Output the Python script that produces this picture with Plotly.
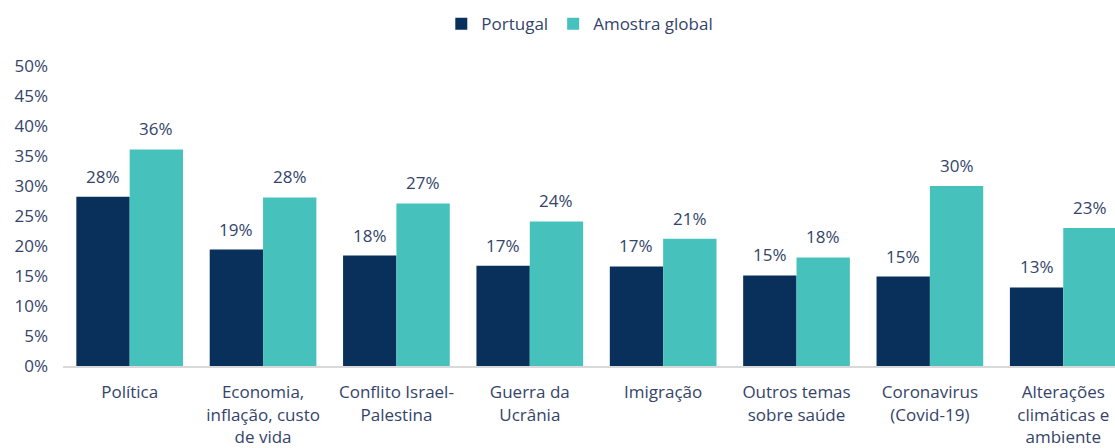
import plotly.graph_objects as go

categories = [
    "Política",
    "Economia,<br>inflação, custo<br>de vida",
    "Conflito Israel-<br>Palestina",
    "Guerra da<br>Ucrânia",
    "Imigração",
    "Outros temas<br>sobre saúde",
    "Coronavirus<br>(Covid-19)",
    "Alterações<br>climáticas e<br>ambiente",
]
portugal = [28.2, 19.4, 18.4, 16.7, 16.6, 15.1, 14.9, 13.1]
global_sample = [36.1, 28.1, 27.1, 24.1, 21.2, 18.1, 30.0, 23.0]
series_names = ["Portugal", "Amostra global"]
y_ticks = [0, 5, 10, 15, 20, 25, 30, 35, 40, 45, 50]

C_PT = "#08305a"
C_GL = "#47c1bc"
TXT = "#34446a"
FONT = "Open Sans"
FS = 17

fig = go.Figure()
fig.add_trace(go.Bar(x=categories, y=portugal, name=series_names[0],
                     marker=dict(color=C_PT, line=dict(width=0))))
fig.add_trace(go.Bar(x=categories, y=global_sample, name=series_names[1],
                     marker=dict(color=C_GL, line=dict(width=0))))

annotations = []
for i, (a, b) in enumerate(zip(portugal, global_sample)):
    for off, v in ((-0.2, a), (0.2, b)):
        annotations.append(dict(
            x=i + off, y=v, xref="x", yref="y", text=f"{round(v)}%",
            showarrow=False, yanchor="bottom", yshift=7,
            font=dict(family=FONT, size=FS, color=TXT)))

fig.update_layout(
    width=1115, height=448,
    margin=dict(l=63, r=0, t=66, b=80),
    paper_bgcolor="white", plot_bgcolor="white",
    barmode="group", bargap=0.2, bargroupgap=0,
    font=dict(family=FONT, size=FS, color=TXT),
    showlegend=True,
    legend=dict(orientation="h", xref="container", yref="container",
                x=0.52, xanchor="center", y=0.946, yanchor="middle",
                font=dict(family=FONT, size=FS, color=TXT),
                itemwidth=30, traceorder="normal"),
    annotations=annotations,
    xaxis=dict(type="category", range=[-0.5, 7.388], showline=True,
               linecolor="#d9d9d9", linewidth=2, ticks="", showgrid=False,
               tickfont=dict(family=FONT, size=FS, color=TXT),
               ticklabelstandoff=10, fixedrange=True),
    yaxis=dict(range=[0, 50], tickvals=y_ticks,
               ticktext=[f"{t}%" for t in y_ticks], showgrid=False,
               zeroline=False, showline=False, ticks="",
               tickfont=dict(family=FONT, size=FS, color=TXT),
               ticklabelstandoff=14, fixedrange=True),
)

fig.write_html(
    "out.html",
    config={"displayModeBar": False},
    post_script="document.body.style.margin='0';document.body.style.overflow='hidden';",
)
